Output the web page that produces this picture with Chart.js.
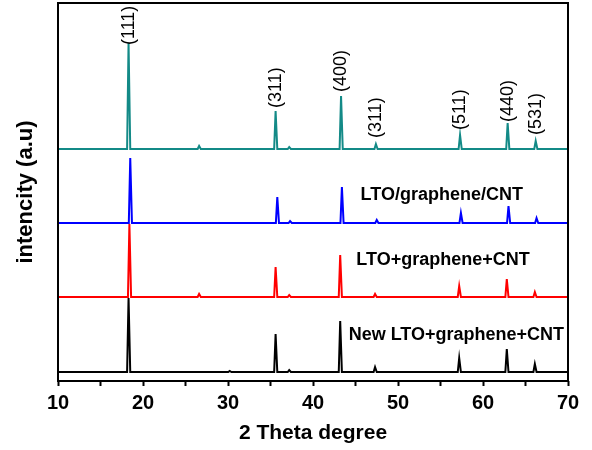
<!DOCTYPE html>
<html>
<head>
<meta charset="utf-8">
<script src="https://cdn.jsdelivr.net/npm/chart.js@4"></script>
<style>
  html, body { margin: 0; padding: 0; background: #fff; }
  #wrap { width: 592px; height: 450px; }
</style>
</head>
<body>
<div id="wrap"><canvas id="chart"></canvas></div>
<script>
// peak positions (2 theta) and peak tops, plus the flat background level
const tealBase = 232;
const tealPos = [18.3, 26.6, 35.6, 37.2, 43.3, 47.4, 57.3, 62.9, 66.2];
const tealTop = [338, 235, 270, 234, 285, 237, 246, 258, 240];

const blueBase = 158;
const bluePos = [18.5, 35.8, 37.3, 43.4, 47.5, 57.4, 63.0, 66.3];
const blueTop = [223, 184, 160, 194, 161, 168, 175, 163];

const redBase = 84;
const redPos = [18.4, 26.6, 35.6, 37.2, 43.2, 47.3, 57.2, 62.8, 66.1];
const redTop = [157, 87, 114, 86, 126, 87, 95, 102, 89];

const blackBase = 9;
const blackPos = [18.3, 30.2, 35.6, 37.2, 43.2, 47.3, 57.2, 62.8, 66.1];
const blackTop = [83, 10, 47, 11, 60, 14, 23, 32, 17];

// hkl labels on the top pattern (where each label starts)
const hklLabels = ["(111)", "(311)", "(400)", "(311)", "(511)", "(440)", "(531)"];
const hklPos = [18.3, 35.6, 43.3, 47.4, 57.3, 62.9, 66.2];
const hklAt = [336, 273, 289, 243, 251, 259, 246];

const sampleNames = ["LTO/graphene/CNT", "LTO+graphene+CNT", "New LTO+graphene+CNT"];

const xTicks = [10, 20, 30, 40, 50, 60, 70];

// turn peak list into line points (narrow triangle per peak)
function pattern(base, pos, top) {
  const pts = [{ x: 10, y: base }];
  pos.forEach((p, i) => {
    pts.push({ x: p - 0.17, y: base });
    pts.push({ x: p, y: top[i] });
    pts.push({ x: p + 0.2, y: base });
  });
  pts.push({ x: 70, y: base });
  return pts;
}

const FONT = "Arial, 'Liberation Sans', sans-serif";

// frame + hkl labels + sample names
const annotate = {
  id: "annotate",
  afterDatasetsDraw(chart) {
    const { ctx, chartArea: a, scales } = chart;
    const xs = scales.x, ys = scales.y;
    ctx.save();
    ctx.strokeStyle = "#000";
    ctx.lineWidth = 2;
    ctx.strokeRect(a.left, a.top, a.right - a.left, a.bottom - a.top);

    ctx.fillStyle = "#000";
    ctx.font = "18px " + FONT;
    ctx.textAlign = "left";
    ctx.textBaseline = "middle";
    hklLabels.forEach((t, i) => {
      ctx.save();
      ctx.translate(xs.getPixelForValue(hklPos[i]), ys.getPixelForValue(hklAt[i]));
      ctx.rotate(-Math.PI / 2);
      ctx.fillText(t, 0, 0);
      ctx.restore();
    });

    ctx.font = "bold 18px " + FONT;
    const nameX = [45.6, 45.1, 44.2];
    const nameY = [186, 121, 46];
    sampleNames.forEach((t, i) => {
      ctx.fillText(t, xs.getPixelForValue(nameX[i]), ys.getPixelForValue(nameY[i]));
    });
    ctx.restore();
  },
};

new Chart(document.getElementById("chart"), {
  type: "line",
  data: {
    datasets: [
      { data: pattern(tealBase, tealPos, tealTop), borderColor: "#138a87" },
      { data: pattern(blueBase, bluePos, blueTop), borderColor: "#0000ff" },
      { data: pattern(redBase, redPos, redTop), borderColor: "#ff0000" },
      { data: pattern(blackBase, blackPos, blackTop), borderColor: "#000000" },
    ],
  },
  options: {
    responsive: true,
    maintainAspectRatio: false,
    animation: false,
    parsing: false,
    elements: {
      line: { borderWidth: 2, tension: 0 },
      point: { radius: 0 },
    },
    layout: { padding: { top: 3, right: 24, left: 0, bottom: 0 } },
    plugins: { legend: { display: false }, tooltip: { enabled: false } },
    scales: {
      x: {
        type: "linear",
        min: 10,
        max: 70,
        afterFit(s) { s.height = 69; },
        border: { display: false },
        grid: { drawOnChartArea: false, tickLength: 5, tickWidth: 2, color: "#000" },
        ticks: {
          stepSize: 5,
          autoSkip: false,
          maxRotation: 0,
          padding: 5,
          color: "#000",
          font: { family: FONT, size: 20, weight: "bold" },
          callback: (v) => (xTicks.includes(v) ? v : ""),
        },
        title: {
          display: true,
          text: "2 Theta degree",
          color: "#000",
          font: { family: FONT, size: 21, weight: "bold" },
          padding: { top: 0, bottom: 4 },
        },
      },
      y: {
        min: 0,
        max: 378,
        afterFit(s) { s.width = 58; },
        border: { display: false },
        grid: { display: false },
        ticks: { display: false },
        title: {
          display: true,
          text: "intencity (a.u)",
          color: "#000",
          font: { family: FONT, size: 22, weight: "bold" },
          padding: { top: 13, bottom: 0 },
        },
      },
    },
  },
  plugins: [annotate],
});
</script>
</body>
</html>
